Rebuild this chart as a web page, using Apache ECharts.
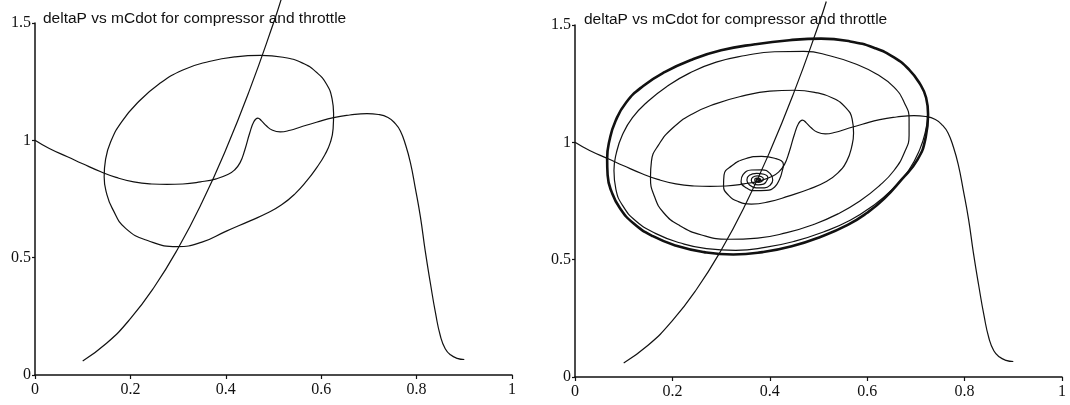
<!DOCTYPE html>
<html>
<head>
<meta charset="utf-8">
<script src="https://cdn.jsdelivr.net/npm/echarts@6/dist/echarts.min.js"></script>
<style>
html,body{margin:0;padding:0;background:#fff;}
#chart{width:1070px;height:405px;}
</style>
</head>
<body>
<div id="chart"></div>
<script>
// ---- data (mCdot, deltaP) ----
var titleText = 'deltaP vs mCdot for compressor and throttle';
var xTicks = [0, 0.2, 0.4, 0.6, 0.8, 1];
var yTicks = [0, 0.5, 1, 1.5];

var compressor = [
  [0,1.0],[0.03,0.965],[0.068,0.93],[0.10,0.90],[0.138,0.866],[0.17,0.842],[0.207,0.823],
  [0.245,0.814],[0.277,0.812],[0.31,0.814],[0.347,0.823],[0.38,0.836],[0.403,0.853],
  [0.418,0.873],[0.43,0.905],[0.44,0.96],[0.45,1.03],[0.459,1.08],[0.467,1.095],
  [0.475,1.083],[0.485,1.062],[0.497,1.044],[0.514,1.036],[0.535,1.043],[0.557,1.057],
  [0.59,1.077],[0.626,1.097],[0.66,1.108],[0.696,1.114],[0.72,1.11],[0.74,1.097],
  [0.755,1.072],[0.766,1.04],[0.777,0.98],[0.787,0.905],[0.797,0.80],[0.808,0.674],
  [0.818,0.53],[0.829,0.39],[0.84,0.26],[0.85,0.165],[0.86,0.112],[0.871,0.086],
  [0.885,0.071],[0.9,0.066]
];

var throttle = [
  [0.10,0.06],[0.15,0.135],[0.20,0.24],[0.25,0.375],[0.30,0.54],[0.35,0.735],
  [0.40,0.96],[0.45,1.215],[0.50,1.50],[0.516,1.60]
];

var leftCycle = [
  [0.626,1.114],[0.623,1.175],[0.611,1.24],[0.59,1.29],[0.56,1.33],[0.52,1.354],[0.473,1.362],
  [0.42,1.356],[0.365,1.336],[0.31,1.30],[0.26,1.24],[0.215,1.16],[0.182,1.08],[0.16,1.0],
  [0.148,0.92],[0.145,0.845],[0.15,0.775],[0.162,0.71],[0.19,0.625],[0.24,0.57],[0.298,0.547],
  [0.35,0.566],[0.40,0.612],[0.452,0.658],[0.487,0.69],[0.517,0.725],[0.545,0.772],[0.57,0.828],
  [0.591,0.885],[0.608,0.94],[0.619,0.99],[0.625,1.05],[0.626,1.114]
];

var rightSpiral = [
  [0.376,0.838],
  [0.379,0.839],[0.378,0.843],[0.374,0.844],[0.372,0.840],[0.373,0.835],[0.377,0.833],[0.380,0.836],
  [0.381,0.840],[0.379,0.847],[0.373,0.848],[0.369,0.841],[0.371,0.832],[0.377,0.829],[0.383,0.833],
  [0.387,0.843],[0.383,0.853],[0.374,0.857],[0.365,0.851],[0.362,0.838],[0.366,0.825],[0.376,0.819],[0.387,0.822],[0.393,0.834],
  [0.396,0.850],[0.388,0.864],[0.373,0.868],[0.358,0.860],[0.353,0.840],[0.358,0.819],[0.372,0.806],[0.389,0.806],[0.401,0.818],
  [0.406,0.840],[0.401,0.866],[0.384,0.883],[0.362,0.882],[0.345,0.862],[0.341,0.833],[0.350,0.808],[0.370,0.794],[0.393,0.795],[0.410,0.810],
  [0.420,0.843],[0.425,0.874],[0.428,0.905],[0.41,0.932],[0.383,0.940],[0.350,0.930],[0.322,0.900],
  [0.306,0.860],[0.305,0.815],[0.315,0.775],[0.335,0.748],[0.362,0.737],[0.397,0.746],
  [0.44,0.772],[0.48,0.80],[0.515,0.832],[0.54,0.87],[0.558,0.92],[0.568,0.98],[0.572,1.04],
  [0.569,1.10],[0.555,1.15],[0.53,1.188],[0.495,1.212],[0.45,1.222],[0.40,1.218],[0.345,1.198],
  [0.29,1.165],[0.24,1.12],[0.2,1.06],[0.172,0.99],[0.157,0.92],[0.155,0.85],[0.163,0.77],
  [0.182,0.70],[0.215,0.645],[0.26,0.605],[0.315,0.587],[0.375,0.592],[0.435,0.615],[0.49,0.65],
  [0.54,0.695],[0.585,0.75],[0.625,0.815],[0.655,0.88],[0.676,0.955],[0.686,1.03],[0.686,1.10],
  [0.676,1.17],[0.655,1.235],[0.62,1.29],[0.575,1.335],[0.525,1.368],[0.47,1.388],[0.41,1.386],
  [0.35,1.37],[0.29,1.342],[0.235,1.295],[0.19,1.24],[0.15,1.175],[0.118,1.105],[0.097,1.03],
  [0.085,0.955],[0.08,0.88],[0.084,0.80],[0.098,0.73],[0.125,0.665],[0.165,0.612],[0.215,0.572],
  [0.27,0.547],[0.33,0.540],[0.39,0.552],[0.45,0.578],[0.51,0.618],[0.565,0.668],[0.612,0.73],
  [0.652,0.80],[0.685,0.88],[0.708,0.97],[0.72,1.05],[0.725,1.12]
];

var rightLimitCycle = [
  [0.725,1.12],[0.721,1.19],[0.708,1.25],[0.686,1.31],[0.655,1.362],[0.615,1.402],[0.565,1.43],
  [0.505,1.442],[0.44,1.435],[0.37,1.418],[0.30,1.392],[0.24,1.352],[0.185,1.30],[0.14,1.24],
  [0.105,1.17],[0.083,1.09],[0.071,1.01],[0.066,0.93],[0.067,0.86],[0.075,0.79],[0.092,0.72],
  [0.12,0.655],[0.16,0.60],[0.21,0.558],[0.265,0.532],[0.325,0.522],[0.385,0.532],[0.445,0.557],
  [0.505,0.598],[0.56,0.648],[0.60,0.70],[0.635,0.76],[0.67,0.84],[0.703,0.925],[0.72,1.02],
  [0.725,1.12]
];

// ---- chart ----
var serif = '"Liberation Serif", "DejaVu Serif", serif';
var sans = '"Liberation Sans", Arial, sans-serif';
var ink = '#111';

function xAxisCfg(idx) {
  return {
    gridIndex: idx, type: 'value', min: xTicks[0], max: xTicks[xTicks.length - 1], interval: 0.2,
    axisLine: {show: true, lineStyle: {color: ink, width: 1.5}},
    axisTick: {show: true, inside: false, length: 4, lineStyle: {color: ink, width: 1.2}},
    splitLine: {show: false},
    axisLabel: {color: ink, fontFamily: serif, fontSize: 16, margin: 7}
  };
}
function yAxisCfg(idx) {
  return {
    gridIndex: idx, type: 'value', min: yTicks[0], max: yTicks[yTicks.length - 1], interval: 0.5,
    axisLine: {show: true, lineStyle: {color: ink, width: 1.5}},
    axisTick: {show: true, inside: false, length: 3, lineStyle: {color: ink, width: 1.2}},
    splitLine: {show: false},
    axisLabel: {color: ink, fontFamily: serif, fontSize: 16, margin: 4}
  };
}
function lineSeries(idx, data, width) {
  return {
    type: 'line', xAxisIndex: idx, yAxisIndex: idx, data: data,
    showSymbol: false, symbol: 'none', smooth: 0.5, clip: false,
    lineStyle: {color: ink, width: width || 1.2}, silent: true
  };
}

var chart = echarts.init(document.getElementById('chart'), null, {renderer: 'canvas'});
chart.setOption({
  animation: false,
  backgroundColor: '#fff',
  title: [
    {text: titleText, left: 38, top: 6, textStyle: {fontFamily: sans, fontSize: 15.5, fontWeight: 'normal', color: ink}},
    {text: titleText, left: 579, top: 7, textStyle: {fontFamily: sans, fontSize: 15.5, fontWeight: 'normal', color: ink}}
  ],
  grid: [
    {left: 35, top: 23, width: 477, height: 352},
    {left: 575, top: 25, width: 487, height: 352}
  ],
  xAxis: [xAxisCfg(0), xAxisCfg(1)],
  yAxis: [yAxisCfg(0), yAxisCfg(1)],
  series: [
    lineSeries(0, compressor),
    lineSeries(0, throttle),
    lineSeries(0, leftCycle),
    lineSeries(1, compressor),
    lineSeries(1, throttle),
    lineSeries(1, rightSpiral),
    lineSeries(1, rightLimitCycle, 2.6)
  ]
});
</script>
</body>
</html>
